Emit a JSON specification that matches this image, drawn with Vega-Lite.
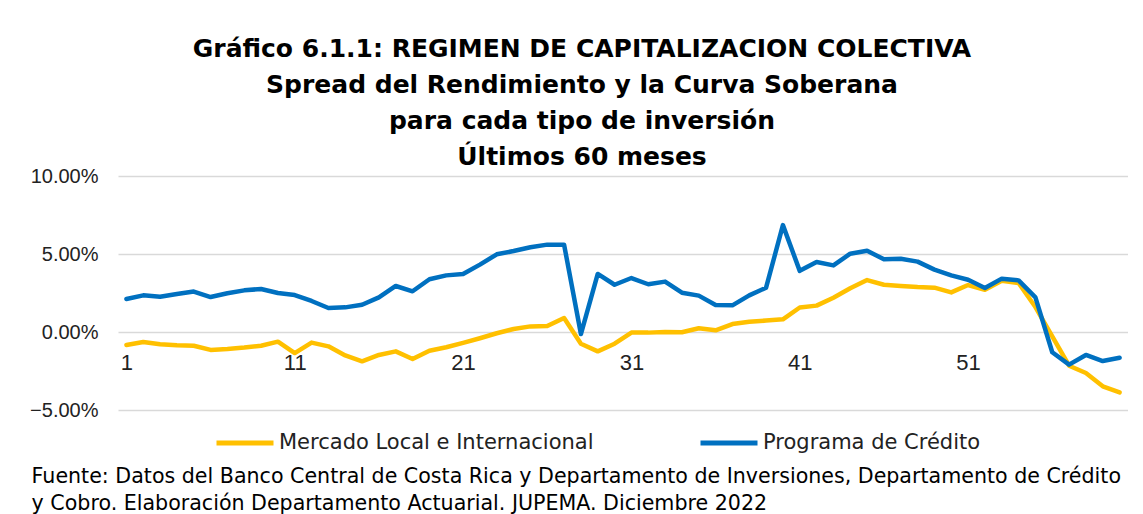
{
  "$schema": "https://vega.github.io/schema/vega-lite/v6.json",
  "padding": {"left": 29, "top": 37, "right": 0, "bottom": 0},
  "background": "white",
  "config": {
    "font": "DejaVu Sans",
    "view": {"stroke": null},
    "concat": {"spacing": 0},
    "legend": {"layout": {"bottom": {"anchor": "middle"}}}
  },
  "title": {
    "text": ["Fuente: Datos del Banco Central de Costa Rica y Departamento de Inversiones, Departamento de Crédito", "y Cobro. Elaboración Departamento Actuarial. JUPEMA. Diciembre 2022"],
    "orient": "bottom",
    "anchor": "start",
    "frame": "bounds",
    "font": "DejaVu Sans",
    "fontSize": 20.6,
    "fontWeight": "normal",
    "lineHeight": 27,
    "offset": 14,
    "dx": 2,
    "color": "#000000"
  },
  "vconcat": [
    {
      "width": 1010,
      "height": 234,
      "title": {
        "text": ["Gráfico 6.1.1: REGIMEN DE CAPITALIZACION COLECTIVA", "Spread del Rendimiento y la Curva Soberana", "para cada tipo de inversión", "Últimos 60 meses"],
        "orient": "top",
        "font": "DejaVu Sans",
        "fontSize": 25,
        "fontWeight": "bold",
        "lineHeight": 36,
        "color": "#000000",
        "anchor": "middle",
        "frame": "group",
        "dx": -41,
        "offset": -4
      },
      "data": {
        "values": [
          {"s": "Mercado Local e Internacional", "i": 1, "v": -0.0083},
          {"s": "Mercado Local e Internacional", "i": 2, "v": -0.0064},
          {"s": "Mercado Local e Internacional", "i": 3, "v": -0.0079},
          {"s": "Mercado Local e Internacional", "i": 4, "v": -0.0085},
          {"s": "Mercado Local e Internacional", "i": 5, "v": -0.0088},
          {"s": "Mercado Local e Internacional", "i": 6, "v": -0.0115},
          {"s": "Mercado Local e Internacional", "i": 7, "v": -0.0109},
          {"s": "Mercado Local e Internacional", "i": 8, "v": -0.0100},
          {"s": "Mercado Local e Internacional", "i": 9, "v": -0.0088},
          {"s": "Mercado Local e Internacional", "i": 10, "v": -0.0062},
          {"s": "Mercado Local e Internacional", "i": 11, "v": -0.0135},
          {"s": "Mercado Local e Internacional", "i": 12, "v": -0.0068},
          {"s": "Mercado Local e Internacional", "i": 13, "v": -0.0092},
          {"s": "Mercado Local e Internacional", "i": 14, "v": -0.0150},
          {"s": "Mercado Local e Internacional", "i": 15, "v": -0.0188},
          {"s": "Mercado Local e Internacional", "i": 16, "v": -0.0147},
          {"s": "Mercado Local e Internacional", "i": 17, "v": -0.0124},
          {"s": "Mercado Local e Internacional", "i": 18, "v": -0.0173},
          {"s": "Mercado Local e Internacional", "i": 19, "v": -0.0120},
          {"s": "Mercado Local e Internacional", "i": 20, "v": -0.0098},
          {"s": "Mercado Local e Internacional", "i": 21, "v": -0.0070},
          {"s": "Mercado Local e Internacional", "i": 22, "v": -0.0040},
          {"s": "Mercado Local e Internacional", "i": 23, "v": -0.0008},
          {"s": "Mercado Local e Internacional", "i": 24, "v": 0.0019},
          {"s": "Mercado Local e Internacional", "i": 25, "v": 0.0036},
          {"s": "Mercado Local e Internacional", "i": 26, "v": 0.0038},
          {"s": "Mercado Local e Internacional", "i": 27, "v": 0.0090},
          {"s": "Mercado Local e Internacional", "i": 28, "v": -0.0075},
          {"s": "Mercado Local e Internacional", "i": 29, "v": -0.0124},
          {"s": "Mercado Local e Internacional", "i": 30, "v": -0.0075},
          {"s": "Mercado Local e Internacional", "i": 31, "v": -0.0004},
          {"s": "Mercado Local e Internacional", "i": 32, "v": -0.0004},
          {"s": "Mercado Local e Internacional", "i": 33, "v": 0.0000},
          {"s": "Mercado Local e Internacional", "i": 34, "v": -0.0002},
          {"s": "Mercado Local e Internacional", "i": 35, "v": 0.0024},
          {"s": "Mercado Local e Internacional", "i": 36, "v": 0.0011},
          {"s": "Mercado Local e Internacional", "i": 37, "v": 0.0051},
          {"s": "Mercado Local e Internacional", "i": 38, "v": 0.0066},
          {"s": "Mercado Local e Internacional", "i": 39, "v": 0.0073},
          {"s": "Mercado Local e Internacional", "i": 40, "v": 0.0081},
          {"s": "Mercado Local e Internacional", "i": 41, "v": 0.0157},
          {"s": "Mercado Local e Internacional", "i": 42, "v": 0.0169},
          {"s": "Mercado Local e Internacional", "i": 43, "v": 0.0220},
          {"s": "Mercado Local e Internacional", "i": 44, "v": 0.0280},
          {"s": "Mercado Local e Internacional", "i": 45, "v": 0.0333},
          {"s": "Mercado Local e Internacional", "i": 46, "v": 0.0303},
          {"s": "Mercado Local e Internacional", "i": 47, "v": 0.0295},
          {"s": "Mercado Local e Internacional", "i": 48, "v": 0.0288},
          {"s": "Mercado Local e Internacional", "i": 49, "v": 0.0284},
          {"s": "Mercado Local e Internacional", "i": 50, "v": 0.0254},
          {"s": "Mercado Local e Internacional", "i": 51, "v": 0.0301},
          {"s": "Mercado Local e Internacional", "i": 52, "v": 0.0271},
          {"s": "Mercado Local e Internacional", "i": 53, "v": 0.0329},
          {"s": "Mercado Local e Internacional", "i": 54, "v": 0.0314},
          {"s": "Mercado Local e Internacional", "i": 55, "v": 0.0160},
          {"s": "Mercado Local e Internacional", "i": 56, "v": -0.0028},
          {"s": "Mercado Local e Internacional", "i": 57, "v": -0.0216},
          {"s": "Mercado Local e Internacional", "i": 58, "v": -0.0263},
          {"s": "Mercado Local e Internacional", "i": 59, "v": -0.0348},
          {"s": "Mercado Local e Internacional", "i": 60, "v": -0.0387},
          {"s": "Programa de Crédito", "i": 1, "v": 0.0212},
          {"s": "Programa de Crédito", "i": 2, "v": 0.0235},
          {"s": "Programa de Crédito", "i": 3, "v": 0.0226},
          {"s": "Programa de Crédito", "i": 4, "v": 0.0244},
          {"s": "Programa de Crédito", "i": 5, "v": 0.0259},
          {"s": "Programa de Crédito", "i": 6, "v": 0.0224},
          {"s": "Programa de Crédito", "i": 7, "v": 0.0248},
          {"s": "Programa de Crédito", "i": 8, "v": 0.0267},
          {"s": "Programa de Crédito", "i": 9, "v": 0.0276},
          {"s": "Programa de Crédito", "i": 10, "v": 0.0250},
          {"s": "Programa de Crédito", "i": 11, "v": 0.0237},
          {"s": "Programa de Crédito", "i": 12, "v": 0.0199},
          {"s": "Programa de Crédito", "i": 13, "v": 0.0154},
          {"s": "Programa de Crédito", "i": 14, "v": 0.0158},
          {"s": "Programa de Crédito", "i": 15, "v": 0.0175},
          {"s": "Programa de Crédito", "i": 16, "v": 0.0222},
          {"s": "Programa de Crédito", "i": 17, "v": 0.0295},
          {"s": "Programa de Crédito", "i": 18, "v": 0.0261},
          {"s": "Programa de Crédito", "i": 19, "v": 0.0338},
          {"s": "Programa de Crédito", "i": 20, "v": 0.0363},
          {"s": "Programa de Crédito", "i": 21, "v": 0.0372},
          {"s": "Programa de Crédito", "i": 22, "v": 0.0432},
          {"s": "Programa de Crédito", "i": 23, "v": 0.0498},
          {"s": "Programa de Crédito", "i": 24, "v": 0.0519},
          {"s": "Programa de Crédito", "i": 25, "v": 0.0543},
          {"s": "Programa de Crédito", "i": 26, "v": 0.0560},
          {"s": "Programa de Crédito", "i": 27, "v": 0.0560},
          {"s": "Programa de Crédito", "i": 28, "v": -0.0013},
          {"s": "Programa de Crédito", "i": 29, "v": 0.0372},
          {"s": "Programa de Crédito", "i": 30, "v": 0.0303},
          {"s": "Programa de Crédito", "i": 31, "v": 0.0346},
          {"s": "Programa de Crédito", "i": 32, "v": 0.0306},
          {"s": "Programa de Crédito", "i": 33, "v": 0.0323},
          {"s": "Programa de Crédito", "i": 34, "v": 0.0252},
          {"s": "Programa de Crédito", "i": 35, "v": 0.0233},
          {"s": "Programa de Crédito", "i": 36, "v": 0.0173},
          {"s": "Programa de Crédito", "i": 37, "v": 0.0171},
          {"s": "Programa de Crédito", "i": 38, "v": 0.0235},
          {"s": "Programa de Crédito", "i": 39, "v": 0.0284},
          {"s": "Programa de Crédito", "i": 40, "v": 0.0685},
          {"s": "Programa de Crédito", "i": 41, "v": 0.0392},
          {"s": "Programa de Crédito", "i": 42, "v": 0.0449},
          {"s": "Programa de Crédito", "i": 43, "v": 0.0427},
          {"s": "Programa de Crédito", "i": 44, "v": 0.0502},
          {"s": "Programa de Crédito", "i": 45, "v": 0.0521},
          {"s": "Programa de Crédito", "i": 46, "v": 0.0466},
          {"s": "Programa de Crédito", "i": 47, "v": 0.0470},
          {"s": "Programa de Crédito", "i": 48, "v": 0.0451},
          {"s": "Programa de Crédito", "i": 49, "v": 0.0400},
          {"s": "Programa de Crédito", "i": 50, "v": 0.0363},
          {"s": "Programa de Crédito", "i": 51, "v": 0.0335},
          {"s": "Programa de Crédito", "i": 52, "v": 0.0282},
          {"s": "Programa de Crédito", "i": 53, "v": 0.0342},
          {"s": "Programa de Crédito", "i": 54, "v": 0.0331},
          {"s": "Programa de Crédito", "i": 55, "v": 0.0222},
          {"s": "Programa de Crédito", "i": 56, "v": -0.0130},
          {"s": "Programa de Crédito", "i": 57, "v": -0.0209},
          {"s": "Programa de Crédito", "i": 58, "v": -0.0147},
          {"s": "Programa de Crédito", "i": 59, "v": -0.0186},
          {"s": "Programa de Crédito", "i": 60, "v": -0.0165}
        ]
      },
      "mark": {"type": "line", "strokeWidth": 4.5, "strokeCap": "round", "strokeJoin": "round"},
      "encoding": {
        "x": {
          "field": "i",
          "type": "quantitative",
          "scale": {"domain": [0.5, 60.5], "nice": false, "zero": false},
          "axis": {
            "values": [1, 11, 21, 31, 41, 51],
            "title": null,
            "grid": false,
            "domain": false,
            "ticks": false,
            "tickSize": 0,
            "offset": -78,
            "labelPadding": 20,
            "labelFont": "Liberation Sans",
            "labelFontSize": 22,
            "labelColor": "#222222",
            "labelFlush": false
          }
        },
        "y": {
          "field": "v",
          "type": "quantitative",
          "scale": {"domain": [-0.05, 0.1], "nice": false},
          "axis": {
            "values": [-0.05, 0, 0.05, 0.1],
            "format": ".2%",
            "title": null,
            "domain": false,
            "ticks": false,
            "tickSize": 0,
            "labelPadding": 20,
            "labelFont": "Liberation Sans",
            "labelFontSize": 20,
            "labelColor": "#222222",
            "gridColor": "#d9d9d9",
            "gridWidth": 1.3
          }
        },
        "color": {
          "field": "s",
          "type": "nominal",
          "scale": {"domain": ["Mercado Local e Internacional", "Programa de Crédito"], "range": ["#FFC000", "#0070C0"]},
          "legend": {
            "title": " ",
            "titleOrient": "right",
            "titlePadding": 52,
            "titleFontSize": 10,
            "orient": "bottom",
            "direction": "horizontal",
            "symbolType": "stroke",
            "symbolStrokeWidth": 5,
            "symbolSize": 3249,
            "labelFont": "DejaVu Sans",
            "labelFontSize": 21,
            "labelOffset": 3,
            "columnPadding": 96,
            "labelColor": "#222222",
            "labelLimit": 600,
            "offset": -8
          }
        }
      }
    }
  ]
}
